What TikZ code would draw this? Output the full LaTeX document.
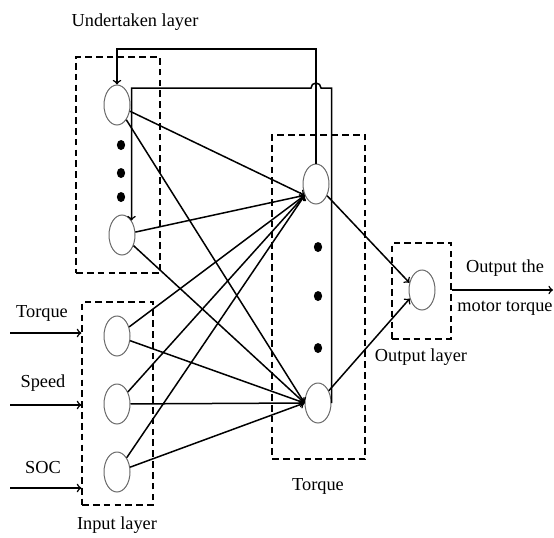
\documentclass[tikz,border=0pt]{standalone}
\usepackage{fontspec}
\setmainfont{Liberation Serif}
\usetikzlibrary{shapes.geometric,arrows,positioning,fit,calc}
\definecolor{neurongray}{RGB}{105,105,105}

\begin{document}
\begin{tikzpicture}[x=0.6pt, y=-0.6pt,
  font=\fontsize{11}{13}\selectfont,
  neuron/.style={ellipse, draw=neurongray, line width=0.6pt, minimum width=15.6pt, minimum height=24pt, inner sep=0pt, fill=white},
  layerbox/.style={draw, dash pattern=on 4pt off 2.5pt, line width=0.75pt, inner sep=0pt},
  link/.style={->, line width=0.9pt},
  blob/.style={ellipse, fill=black, minimum width=5pt, minimum height=6pt, inner sep=0pt}
]
\useasboundingbox (0,0) rectangle (554,537);

% Layer boxes
\node[layerbox, fit={(76,57) (160,273)}] (ubox) {};
\node[layerbox, fit={(82,302) (153,505)}] (inbox) {};
\node[layerbox, fit={(272,135) (365,459)}] (hbox) {};
\node[layerbox, fit={(392,243) (451,339)}] (obox) {};

% Undertaken layer
\node[neuron] (u1) at (117,105) {};
\node[neuron] (u2) at (122,235) {};
\node[blob] (ud1) at (121,145) {};
\node[blob] (ud2) at (121,173) {};
\node[blob] (ud3) at (121,197) {};

% Input layer
\node[neuron] (i1) at (117,336) {};
\node[neuron] (i2) at (117,404) {};
\node[neuron] (i3) at (117,472) {};

% Hidden layer
\node[neuron] (h1) at (316,184) {};
\node[neuron] (h2) at (318,403) {};
\node[blob] (hd1) at (318,247) {};
\node[blob] (hd2) at (318,296) {};
\node[blob] (hd3) at (318,348) {};

% Output layer
\node[neuron] (o1) at (422,290) {};

% Labels
\node (ulabel) at (135,22) {Undertaken layer};
\node (inlabel) at (117,525) {Input layer};
\node (hlabel) at (318,486) {Torque};
\node (olabel) at (421,357) {Output layer};
\node (tqlabel) at (42,313) {Torque};
\node (splabel) at (43,383) {Speed};
\node (soclabel) at (43,468) {SOC};
\node (outlabel1) at (505,268) {Output the};
\node (outlabel2) at (505,308) {motor torque};

% Inputs
\coordinate (tqin) at (10,333);
\coordinate (spin) at (10,405);
\coordinate (socin) at (10,488);
\draw[link] (tqin) -- (inbox.west |- tqin);
\draw[link] (spin) -- (inbox.west |- spin);
\draw[link] (socin) -- (inbox.west |- socin);

% Connections to hidden layer
\foreach \src in {u1,u2,i1,i2,i3}{
  \draw[link] (\src) -- (h1.225);
  \draw[link] (\src) -- (h2.west);
}

% Hidden to output
\draw[link] (h1) -- (o1.150);
\draw[link] (h2) -- (o1.215);

% Output
\coordinate (outend) at (553,290);
\draw[link] (obox.east |- o1) -- (outend);

% Feedback
\coordinate (topy) at (0,49);
\coordinate (hopy) at (0,88);
\draw[link] (h1.north) -- (h1.north |- topy) -| (u1.north);
\draw[link] (h2.east) -- (h2.east |- hopy) -- ($(h1.north |- hopy)+(5,0)$)
  arc (0:-180:5) -- (u2.north east |- hopy) -- (u2.north east);

\end{tikzpicture}
\end{document}
